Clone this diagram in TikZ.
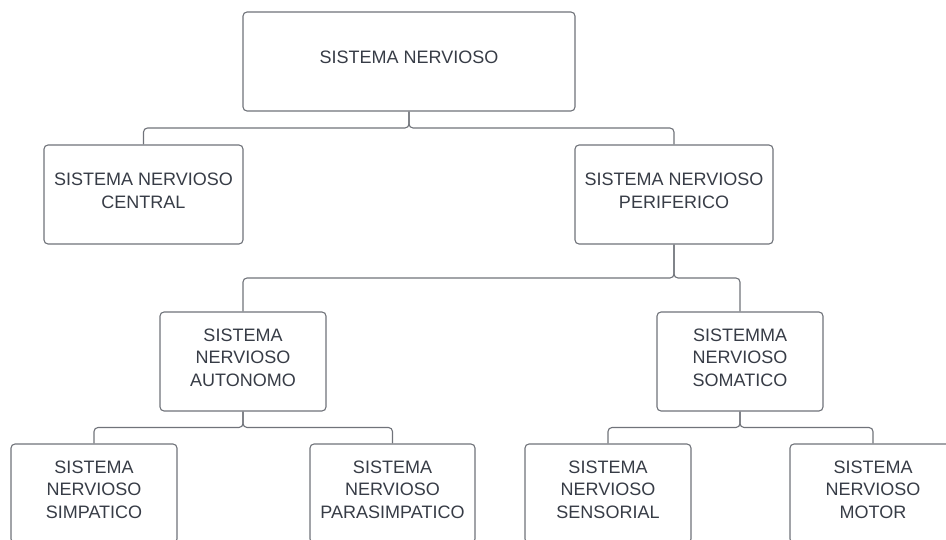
\documentclass[tikz,border=0pt]{standalone}
\usepackage{fontspec}
\setmainfont{Liberation Sans}
\usetikzlibrary{calc}
\definecolor{linegray}{RGB}{112,115,122}
\definecolor{textgray}{RGB}{55,60,70}

\begin{document}
\begin{tikzpicture}[
  x=1pt, y=-1pt,
  sbox/.style={rectangle, rounded corners=4pt, draw=linegray, line width=1.1pt, fill=white,
               text=textgray, minimum height=99pt, align=center, inner sep=0pt,
               text depth=8pt, font=\fontsize{18}{22.5}\selectfont},
  link/.style={draw=linegray, line width=1.1pt, rounded corners=4pt}
]
\useasboundingbox (0,0) rectangle (946,540);
\clip (0,0) rectangle (946,540);

% boxes
\node[sbox, minimum width=332pt] (sn) at (409,61.5) {SISTEMA NERVIOSO};
\node[sbox, minimum width=199pt] (snc) at (143.5,194.5) {SISTEMA NERVIOSO\\CENTRAL};
\node[sbox, minimum width=198pt] (snp) at (674,194.5) {SISTEMA NERVIOSO\\PERIFERICO};
\node[sbox, minimum width=166pt] (sna) at (243,361.5) {SISTEMA\\NERVIOSO\\AUTONOMO};
\node[sbox, minimum width=166pt] (sns) at (740,361.5) {SISTEMMA\\NERVIOSO\\SOMATICO};
\node[sbox, minimum width=166pt] (simp) at (94,493.5) {SISTEMA\\NERVIOSO\\SIMPATICO};
\node[sbox, minimum width=165pt] (para) at (392.5,493.5) {SISTEMA\\NERVIOSO\\PARASIMPATICO};
\node[sbox, minimum width=166pt] (sens) at (608,493.5) {SISTEMA\\NERVIOSO\\SENSORIAL};
\node[sbox, minimum width=166pt] (motor) at (873,493.5) {SISTEMA\\NERVIOSO\\MOTOR};

% connectors
\draw[link] (sn.south) |- ($(sn.south)!.5!(snc.north)$) -| (snc.north);
\draw[link] (sn.south) |- ($(sn.south)!.5!(snp.north)$) -| (snp.north);
\draw[link] (snp.south) |- ($(snp.south)!.5!(sna.north)$) -| (sna.north);
\draw[link] (snp.south) |- ($(snp.south)!.5!(sns.north)$) -| (sns.north);
\draw[link] (sna.south) |- ($(sna.south)!.5!(simp.north)$) -| (simp.north);
\draw[link] (sna.south) |- ($(sna.south)!.5!(para.north)$) -| (para.north);
\draw[link] (sns.south) |- ($(sns.south)!.5!(sens.north)$) -| (sens.north);
\draw[link] (sns.south) |- ($(sns.south)!.5!(motor.north)$) -| (motor.north);

\end{tikzpicture}
\end{document}
